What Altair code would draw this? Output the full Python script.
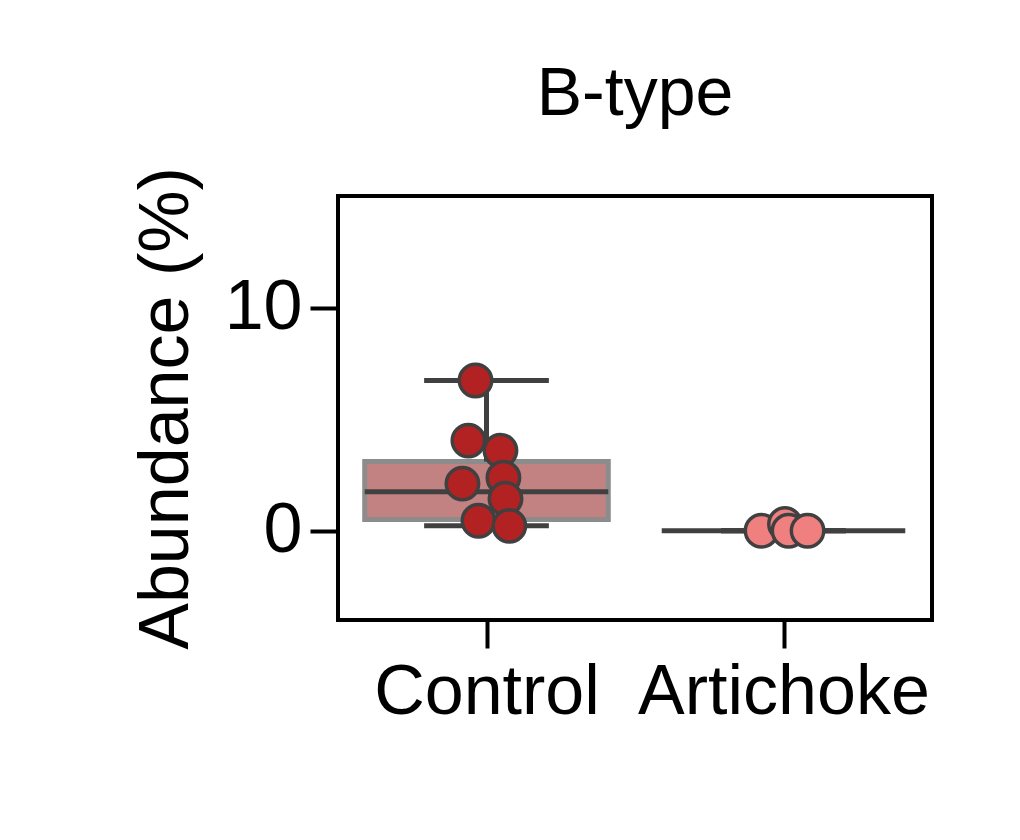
import altair as alt
import pandas as pd

groups = ["Control", "Artichoke"]
group_pos = [0, 1]

# points (value, horizontal swarm offset in category units)
ctrl_values = [6.73, 4.04, 3.59, 2.38, 2.11, 1.43, 0.45, 0.22]
ctrl_offsets = [-0.037, -0.061, 0.047, 0.057, -0.081, 0.064, -0.027, 0.077]
art_values = [0.0, 0.3, 0.0, 0.0]
art_offsets = [-0.074, 0.005, 0.017, 0.081]

# box stats: q1, median, q3, whisker low, whisker high
q1 = [0.5, 0.0]
median = [1.75, 0.0]
q3 = [3.1, 0.0]
wlo = [0.22, 0.0]
whi = [6.73, 0.0]
point_colors = ["#b22222", "#f08080"]

pts = pd.DataFrame(
    {
        "x": [group_pos[0] + o for o in ctrl_offsets] + [group_pos[1] + o for o in art_offsets],
        "v": ctrl_values + art_values,
        "g": ["Control"] * len(ctrl_values) + ["Artichoke"] * len(art_values),
    }
)
box = pd.DataFrame(
    {
        "g": groups,
        "x0": [p - 0.41 for p in group_pos],
        "x1": [p + 0.41 for p in group_pos],
        "c0": [p - 0.21 for p in group_pos],
        "c1": [p + 0.21 for p in group_pos],
        "xc": group_pos,
        "q1": q1, "med": median, "q3": q3, "lo": wlo, "hi": whi,
    }
)

xs = alt.Scale(domain=[-0.5, 1.5], nice=False, zero=False)
ys = alt.Scale(domain=[-4, 15], nice=False, zero=False)
font = "Liberation Sans"

xaxis = alt.Axis(
    values=group_pos, labelExpr="datum.value == 0 ? 'Control' : 'Artichoke'",
    title=None, grid=False, domain=False, ticks=True, tickSize=28, tickWidth=4,
    tickColor="black", labelFontSize=70, labelFont=font, labelColor="black",
    labelPadding=10, labelLimit=0,
)
yaxis = alt.Axis(
    values=[0, 10], title="Abundance (%)", grid=False, domain=False, tickSize=28,
    tickWidth=4, tickColor="black", labelFontSize=70, labelFont=font,
    labelColor="black", titleFontSize=70, titleFont=font, titleFontWeight="normal",
    titleColor="black", titlePadding=22, labelPadding=8, labelLimit=0,
)

base_box = alt.Chart(box)
rect = base_box.transform_filter("datum.g == 'Control'").mark_rect(
    fill="#c28282", stroke="#8c8c8c", strokeWidth=5
).encode(
    x=alt.X("x0:Q", scale=xs, axis=xaxis), x2="x1:Q",
    y=alt.Y("q1:Q", scale=ys, axis=yaxis), y2="q3:Q",
)
whisk_up = base_box.mark_rule(color="#404040", strokeWidth=5).encode(
    x=alt.X("xc:Q", scale=xs), y=alt.Y("q3:Q", scale=ys), y2="hi:Q"
)
whisk_dn = base_box.mark_rule(color="#404040", strokeWidth=5).encode(
    x=alt.X("xc:Q", scale=xs), y=alt.Y("lo:Q", scale=ys), y2="q1:Q"
)
cap_hi = base_box.mark_rule(color="#404040", strokeWidth=5).encode(
    x=alt.X("c0:Q", scale=xs), x2="c1:Q", y=alt.Y("hi:Q", scale=ys)
)
cap_lo = base_box.mark_rule(color="#404040", strokeWidth=5).encode(
    x=alt.X("c0:Q", scale=xs), x2="c1:Q", y=alt.Y("lo:Q", scale=ys)
)
med = base_box.mark_rule(color="#404040", strokeWidth=5).encode(
    x=alt.X("x0:Q", scale=xs), x2="x1:Q", y=alt.Y("med:Q", scale=ys)
)
points = alt.Chart(pts).mark_circle(
    size=1050, opacity=1, stroke="#404040", strokeWidth=3.5
).encode(
    x=alt.X("x:Q", scale=xs),
    y=alt.Y("v:Q", scale=ys),
    color=alt.Color("g:N", scale=alt.Scale(domain=groups, range=point_colors), legend=None),
)

chart = (
    alt.layer(rect, whisk_up, whisk_dn, cap_hi, cap_lo, med, points)
    .properties(
        width=594, height=424,
        title=alt.TitleParams("B-type", fontSize=68, font=font, fontWeight="normal",
                              color="black", offset=38),
        autosize=alt.AutoSizeParams(type="none"),
        padding={"left": 330, "top": 188, "right": 80, "bottom": 200},
        view=alt.ViewBackground(stroke="black", strokeWidth=4),
    )
    .configure(background="white")
)

chart.save("out.html", embed_options={"renderer": "svg", "actions": False})
